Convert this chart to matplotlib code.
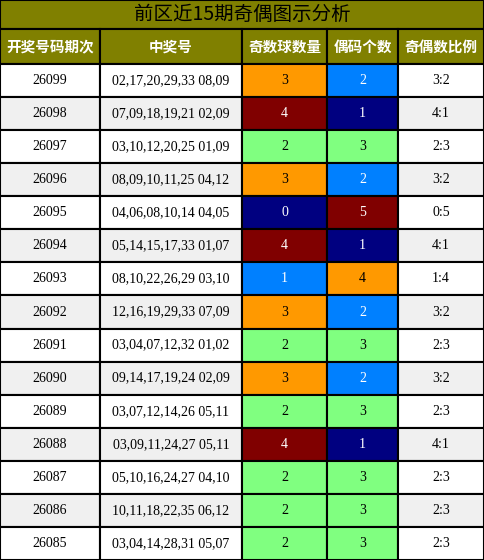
import matplotlib.pyplot as plt
from matplotlib.patches import Rectangle

plt.rcParams['font.family'] = ['Noto Sans CJK SC', 'DejaVu Sans']

title = "前区近15期奇偶图示分析"
headers = ["开奖号码期次", "中奖号", "奇数球数量", "偶码个数", "奇偶数比例"]
periods = ["26099", "26098", "26097", "26096", "26095", "26094", "26093", "26092",
           "26091", "26090", "26089", "26088", "26087", "26086", "26085"]
numbers = ["02,17,20,29,33 08,09", "07,09,18,19,21 02,09", "03,10,12,20,25 01,09",
           "08,09,10,11,25 04,12", "04,06,08,10,14 04,05", "05,14,15,17,33 01,07",
           "08,10,22,26,29 03,10", "12,16,19,29,33 07,09", "03,04,07,12,32 01,02",
           "09,14,17,19,24 02,09", "03,07,12,14,26 05,11", "03,09,11,24,27 05,11",
           "05,10,16,24,27 04,10", "10,11,18,22,35 06,12", "03,04,14,28,31 05,07"]
odd_counts = [3, 4, 2, 3, 0, 4, 1, 3, 2, 3, 2, 4, 2, 2, 2]
even_counts = [5 - o for o in odd_counts]

# cell colour per count value: (background, text)
count_style = {0: ("#000080", "white"), 1: ("#0080FF", "white"), 2: ("#80FF80", "black"),
               3: ("#FF9900", "black"), 4: ("#800000", "white"), 5: ("#800000", "white")}
odd_style = {0: ("#000080", "white"), 1: ("#0080FF", "white"), 2: ("#80FF80", "black"),
             3: ("#FF9900", "black"), 4: ("#800000", "white")}
even_style = {1: ("#000080", "white"), 2: ("#0080FF", "white"), 3: ("#80FF80", "black"),
              4: ("#FF9900", "black"), 5: ("#800000", "white")}

W, H = 484, 560
col_x = [0, 100, 242, 327, 398, 484]
title_h, head_h = 29, 35
row_h = (H - title_h - head_h) / len(periods)
olive = "#808000"
serif = "Liberation Serif"

fig = plt.figure(figsize=(W / 100, H / 100), dpi=100)
ax = fig.add_axes([0, 0, 1, 1])
ax.set_xlim(0, W)
ax.set_ylim(H, 0)
ax.axis('off')


def cell(x0, x1, y0, h, bg, text, color, **kw):
    ax.add_patch(Rectangle((x0, y0), x1 - x0, h, facecolor=bg, edgecolor='black', linewidth=1.5))
    ax.text((x0 + x1) / 2, y0 + h / 2, text, ha='center', va='center', color=color, **kw)


cell(0, W, 0, title_h, olive, title, 'black', fontsize=14)
for i, hd in enumerate(headers):
    cell(col_x[i], col_x[i + 1], title_h, head_h, olive, hd, 'white', fontsize=10.5, fontweight='bold')

for r in range(len(periods)):
    y = title_h + head_h + r * row_h
    bg = "#FFFFFF" if r % 2 == 0 else "#F0F0F0"
    o, e = odd_counts[r], even_counts[r]
    cell(col_x[0], col_x[1], y, row_h, bg, periods[r], 'black', fontsize=10, family=serif)
    cell(col_x[1], col_x[2], y, row_h, bg, numbers[r], 'black', fontsize=10, family=serif)
    cell(col_x[2], col_x[3], y, row_h, odd_style[o][0], str(o), odd_style[o][1], fontsize=10, family=serif)
    cell(col_x[3], col_x[4], y, row_h, even_style[e][0], str(e), even_style[e][1], fontsize=10, family=serif)
    cell(col_x[4], col_x[5], y, row_h, bg, f"{o}:{e}", 'black', fontsize=10, family=serif)

fig.savefig("out.png", dpi=100)
